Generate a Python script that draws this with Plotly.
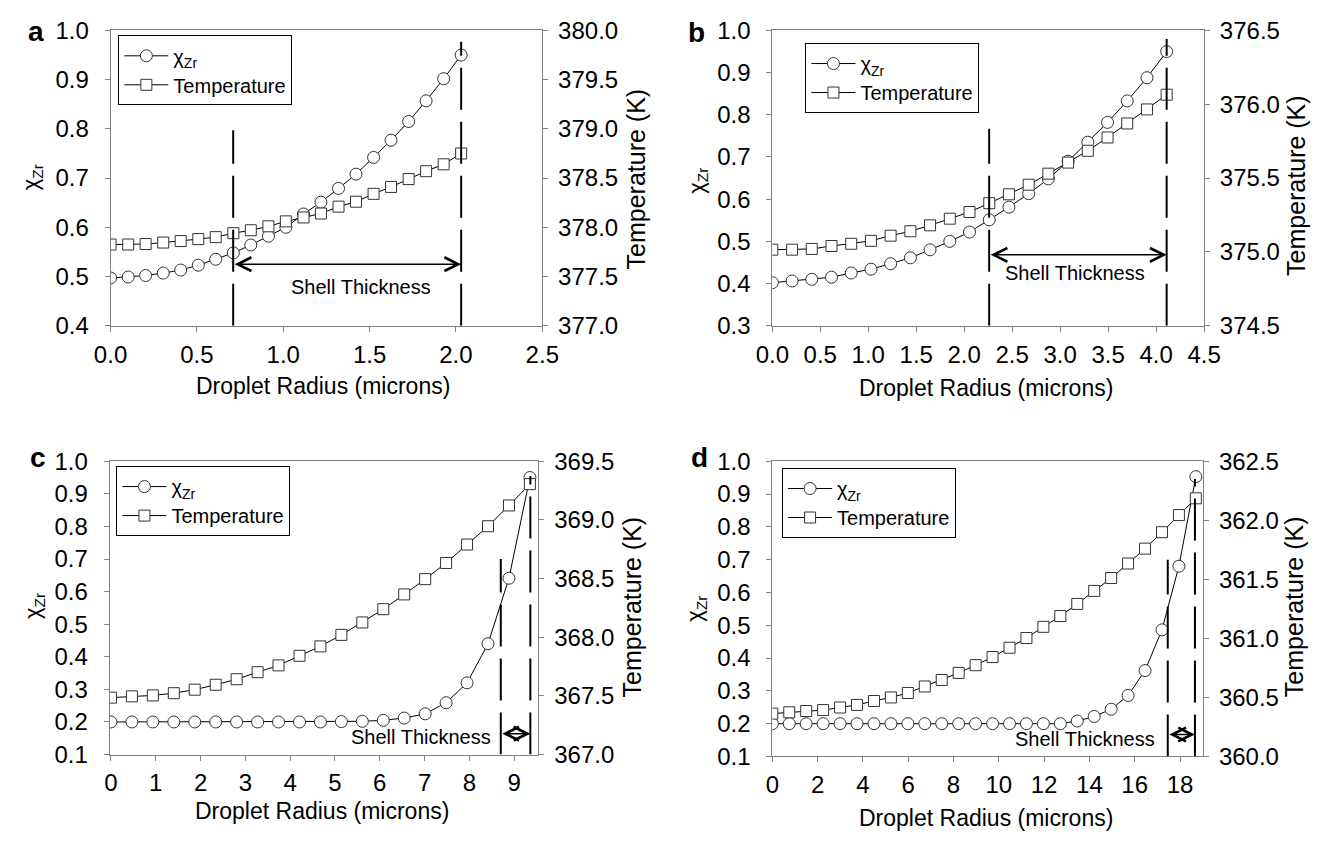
import plotly.graph_objects as go

# ---------------- data ----------------
# Panel a
xa = [0.0, 0.102, 0.203, 0.305, 0.406, 0.508, 0.609, 0.711, 0.812, 0.914, 1.015,
      1.117, 1.218, 1.320, 1.421, 1.523, 1.624, 1.726, 1.827, 1.929, 2.03]
chi_a = [0.497, 0.499, 0.502, 0.507, 0.513, 0.523, 0.535, 0.548, 0.564, 0.582, 0.600,
         0.627, 0.651, 0.679, 0.708, 0.742, 0.777, 0.815, 0.857, 0.902, 0.950]
temp_a = [377.825, 377.825, 377.830, 377.845, 377.860, 377.880, 377.900, 377.940, 377.970,
          378.010, 378.060, 378.100, 378.140, 378.210, 378.260, 378.340, 378.410, 378.490,
          378.570, 378.640, 378.750]

# Panel b
xb = [0.0, 0.206, 0.411, 0.617, 0.822, 1.028, 1.233, 1.439, 1.644, 1.850, 2.055,
      2.261, 2.466, 2.672, 2.877, 3.083, 3.288, 3.494, 3.699, 3.905, 4.11]
chi_b = [0.402, 0.406, 0.410, 0.415, 0.425, 0.434, 0.447, 0.461, 0.480, 0.500, 0.522,
         0.551, 0.581, 0.613, 0.648, 0.690, 0.735, 0.782, 0.833, 0.888, 0.950]
temp_b = [375.015, 375.015, 375.020, 375.040, 375.055, 375.075, 375.110, 375.140, 375.180,
          375.225, 375.270, 375.330, 375.390, 375.455, 375.530, 375.605, 375.685, 375.775,
          375.870, 375.965, 376.065]

# Panel c
xc = [0.0, 0.468, 0.935, 1.403, 1.870, 2.338, 2.805, 3.273, 3.740, 4.208, 4.675,
      5.143, 5.610, 6.078, 6.545, 7.013, 7.480, 7.948, 8.415, 8.883, 9.35]
chi_c = [0.200, 0.200, 0.200, 0.200, 0.200, 0.200, 0.200, 0.200, 0.200, 0.200, 0.200,
         0.201, 0.202, 0.205, 0.212, 0.225, 0.259, 0.320, 0.440, 0.641, 0.950]
temp_c = [367.485, 367.496, 367.504, 367.523, 367.553, 367.595, 367.642, 367.702, 367.760,
          367.842, 367.922, 368.020, 368.126, 368.239, 368.365, 368.495, 368.633, 368.790,
          368.946, 369.123, 369.305]

# Panel d
xd = [0.0, 0.748, 1.496, 2.244, 2.992, 3.740, 4.488, 5.236, 5.984, 6.732, 7.480,
      8.228, 8.976, 9.724, 10.472, 11.220, 11.968, 12.716, 13.464, 14.212, 14.960,
      15.708, 16.456, 17.204, 17.952, 18.70]
chi_d = [0.200, 0.200, 0.200, 0.200, 0.200, 0.200, 0.200, 0.200, 0.200, 0.200, 0.200,
         0.200, 0.200, 0.200, 0.200, 0.200, 0.200, 0.200, 0.208, 0.222, 0.244, 0.286,
         0.362, 0.486, 0.680, 0.953]
temp_d = [360.363, 360.374, 360.385, 360.393, 360.415, 360.437, 360.470, 360.500, 360.538,
          360.593, 360.648, 360.708, 360.773, 360.842, 360.921, 361.003, 361.098, 361.189,
          361.292, 361.402, 361.511, 361.634, 361.760, 361.899, 362.044, 362.186]

panel_labels = ["a", "b", "c", "d"]
x_title = "Droplet Radius (microns)"
y_left_title = "χ<sub>Zr</sub>"
y_right_title = "Temperature (K)"
shell_text = "Shell Thickness"
x_ranges = [[0, 2.5], [0, 4.5], [-0.03, 9.54], [0, 19.02]]
x_dticks = [0.5, 0.5, 1, 2]
x_fmt = [".1f", ".1f", "d", "d"]
y_ranges = [[0.4, 1.0], [0.3, 1.0], [0.1, 1.0], [0.1, 1.0]]
t_ranges = [[377.0, 380.0], [374.5, 376.5], [367.0, 369.5], [360.0, 362.5]]
t_dtick = 0.5
shell_x = [(0.71, 2.03), (2.26, 4.11), (8.70, 9.36), (17.46, 18.66)]
shell_top = [(0.797, 0.977), (0.767, 0.98), (0.70, 0.955), (0.70, 0.946)]
arrow_y = [0.525, 0.468, 0.164, 0.167]
label_xy = [(1.45, 0.479), (3.15, 0.426), (8.53, 0.154), (16.98, 0.153)]
label_anchor = ["center", "center", "right", "right"]

# ---------------- layout geometry (pixels) ----------------
W, H = 1339, 845
boxes = [(96, 539, 17, 322), (775, 1218, 17, 322), (95, 535, 462, 765), (775, 1217, 462, 767)]
legend_pos = [(104, 22), (809, 30), (102, 467), (785, 469)]
letter_pos = [(19, 18), (697, 19), (22, 458), (700, 458)]
ytitle_left_pos = [(15, 169), (698, 172), (18, 612), (697, 614)]
ytitle_right_pos = [(635, 170), (1313, 177), (631, 612), (1311, 612)]
xtitle_pos = [(314, 384), (994, 386), (313, 823), (994, 831)]

FONT = "Liberation Sans, Arial, sans-serif"
AX = "#808080"

def px(x):
    return x / W

def py(y):
    return 1 - y / H

fig = go.Figure()

xs = [xa, xb, xc, xd]
chis = [chi_a, chi_b, chi_c, chi_d]
temps = [temp_a, temp_b, temp_c, temp_d]

layout = dict()
annotations = []
shapes = []

for i in range(4):
    xname = "x" if i == 0 else f"x{i+1}"
    yl = 2 * i + 1
    yr = 2 * i + 2
    ylname = "y" if yl == 1 else f"y{yl}"
    yrname = f"y{yr}"
    leg = "legend" if i == 0 else f"legend{i+1}"
    x0, x1, y0, y1 = boxes[i]
    xdom = [px(x0), px(x1)]
    ydom = [py(y1), py(y0)]

    fig.add_trace(go.Scatter(
        x=xs[i], y=chis[i], xaxis=xname, yaxis=ylname, mode="lines+markers",
        name="χ<sub>Zr</sub>", legend=leg,
        line=dict(color="black", width=1),
        marker=dict(symbol="circle", size=12, color="white",
                    line=dict(color="#333333", width=1))))
    fig.add_trace(go.Scatter(
        x=xs[i], y=temps[i], xaxis=xname, yaxis=yrname, mode="lines+markers",
        name="Temperature", legend=leg,
        line=dict(color="black", width=1),
        marker=dict(symbol="square", size=11, color="white",
                    line=dict(color="#333333", width=1))))

    axkey = "xaxis" if i == 0 else f"xaxis{i+1}"
    layout[axkey] = dict(
        domain=xdom, anchor=ylname, range=x_ranges[i], dtick=x_dticks[i], tick0=0,
        tickformat=x_fmt[i], showline=True, linecolor=AX, linewidth=1, mirror=True,
        ticks="outside", ticklen=5, tickcolor=AX, showgrid=False, zeroline=False,
        ticklabelstandoff=2,
        tickfont=dict(family=FONT, size=24, color="black"))
    ylkey = "yaxis" if yl == 1 else f"yaxis{yl}"
    layout[ylkey] = dict(
        domain=ydom, anchor=xname, range=y_ranges[i], dtick=0.1, tickformat=".1f",
        showline=True, linecolor=AX, linewidth=1, ticks="outside", ticklen=5,
        tickcolor=AX, showgrid=False, zeroline=False, ticklabelstandoff=11,
        tickfont=dict(family=FONT, size=24, color="black"))
    yrkey = f"yaxis{yr}"
    layout[yrkey] = dict(
        domain=ydom, anchor=xname, overlaying=ylname, side="right",
        range=t_ranges[i], dtick=t_dtick, tickformat=".1f",
        showline=True, linecolor=AX, linewidth=1, ticks="outside", ticklen=5,
        tickcolor=AX, showgrid=False, zeroline=False, ticklabelstandoff=5,
        tickfont=dict(family=FONT, size=24, color="black"))

    lx, ly = legend_pos[i]
    layout[leg] = dict(
        x=px(lx), y=py(ly), xanchor="left", yanchor="top",
        bordercolor="black", borderwidth=1, bgcolor="white",
        font=dict(family=FONT, size=20, color="black"),
        tracegroupgap=0, itemwidth=44)

    # panel letter
    annotations.append(dict(
        text=f"<b>{panel_labels[i]}</b>", xref="paper", yref="paper",
        x=px(letter_pos[i][0]), y=py(letter_pos[i][1]), xanchor="center", yanchor="middle",
        showarrow=False, font=dict(family=FONT, size=28, color="black")))
    # axis titles
    annotations.append(dict(
        text=x_title, xref="paper", yref="paper",
        x=px(xtitle_pos[i][0]), y=py(xtitle_pos[i][1]), xanchor="center", yanchor="middle",
        showarrow=False, font=dict(family=FONT, size=23, color="black")))
    annotations.append(dict(
        text=y_left_title, xref="paper", yref="paper", textangle=-90,
        x=px(ytitle_left_pos[i][0]), y=py(ytitle_left_pos[i][1]),
        xanchor="center", yanchor="middle",
        showarrow=False, font=dict(family=FONT, size=22, color="black")))
    annotations.append(dict(
        text=y_right_title, xref="paper", yref="paper", textangle=-90,
        x=px(ytitle_right_pos[i][0]), y=py(ytitle_right_pos[i][1]),
        xanchor="center", yanchor="middle",
        showarrow=False, font=dict(family=FONT, size=25, color="black")))

    # shell boundaries
    for k in range(2):
        shapes.append(dict(
            type="line", xref=xname, yref=ylname,
            x0=shell_x[i][k], x1=shell_x[i][k],
            y0=y_ranges[i][0], y1=shell_top[i][k],
            line=dict(color="black", width=2, dash="42px,12px")))
    annotations.append(dict(
        xref=xname, yref=ylname, axref=xname, ayref=ylname,
        x=shell_x[i][1], y=arrow_y[i], ax=shell_x[i][0], ay=arrow_y[i],
        showarrow=True, arrowhead=5, startarrowhead=5, arrowside="end+start",
        arrowsize=1.8, startarrowsize=1.8, arrowwidth=1.5, arrowcolor="black", text=""))
    annotations.append(dict(
        xref=xname, yref=ylname, x=label_xy[i][0], y=label_xy[i][1],
        text=shell_text, showarrow=False, xanchor=label_anchor[i], yanchor="middle",
        font=dict(family=FONT, size=20, color="black")))

fig.update_layout(
    **layout,
    width=W, height=H,
    margin=dict(l=0, r=0, t=0, b=0),
    paper_bgcolor="white", plot_bgcolor="white",
    showlegend=True,
    annotations=annotations, shapes=shapes,
)

fig.write_html("out.html")
